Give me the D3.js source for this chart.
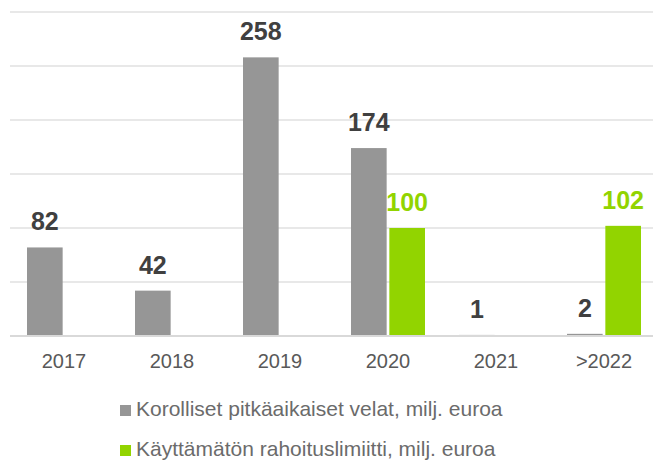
<!DOCTYPE html>
<html>
<head>
<meta charset="utf-8">
<script src="https://cdn.jsdelivr.net/npm/d3@7"></script>
<style>
  body { margin: 0; background: #fff; }
  svg { display: block; font-family: "Liberation Sans", Arial, sans-serif; }
</style>
</head>
<body>
<div id="viz"></div>
<script>
var categories = ['2017', '2018', '2019', '2020', '2021', '>2022'];
var velat = [82, 42, 258, 174, 1, 2];
var limiitti = [null, null, null, 100, null, 102];
var seriesNames = ['Korolliset pitkäaikaiset velat, milj. euroa',
                   'Käyttämätön rahoituslimiitti, milj. euroa'];
var seriesColors = ['#969696', '#92d400'];
var labelColors = ['#404040', '#92d400'];
var yTicks = [0, 50, 100, 150, 200, 250, 300];

var width = 653,
    height = 462,
    plotTop = 12,
    plotBottom = 336,
    plotLeft = 10;

var svg = d3.select('#viz').append('svg')
    .attr('width', width)
    .attr('height', height);

var xScale = d3.scaleBand()
    .domain(categories)
    .range([plotLeft, plotLeft + 108 * categories.length]);

var inner = d3.scaleBand()
    .domain([0, 1])
    .range([17, 91])
    .paddingInner(0.07);

var yScale = d3.scaleLinear()
    .domain([0, 300])
    .range([plotBottom, plotTop]);

// gridlines
svg.append('g')
    .selectAll('line')
    .data(yTicks.slice(1))
    .enter().append('line')
    .attr('x1', plotLeft)
    .attr('x2', width)
    .attr('y1', function(d){ return yScale(d); })
    .attr('y2', function(d){ return yScale(d); })
    .style('stroke', '#e0e0e0')
    .style('stroke-width', 1.5);

var series = [velat, limiitti];

series.forEach(function(values, s){
    var data = values.map(function(v, i){ return {cat: categories[i], v: v}; })
        .filter(function(d){ return d.v !== null; });

    var g = svg.append('g');
    g.selectAll('rect')
        .data(data)
        .enter().append('rect')
        .attr('x', function(d){ return xScale(d.cat) + inner(s); })
        .attr('width', inner.bandwidth())
        .attr('y', function(d){ return yScale(d.v); })
        .attr('height', function(d){ return plotBottom - yScale(d.v); })
        .style('fill', seriesColors[s]);

    g.selectAll('text')
        .data(data)
        .enter().append('text')
        .attr('x', function(d){ return xScale(d.cat) + inner(s) + inner.bandwidth() / 2; })
        .attr('y', function(d){ return yScale(d.v) - 17; })
        .attr('text-anchor', 'middle')
        .style('font-size', '25px')
        .style('font-weight', 'bold')
        .style('fill', labelColors[s])
        .text(function(d){ return d.v; });
});

// x axis
var xAxis = svg.append('g')
    .attr('transform', 'translate(0,' + plotBottom + ')')
    .call(d3.axisBottom(xScale).tickSize(0).tickPadding(18));
xAxis.select('.domain').remove();
xAxis.append('line')
    .attr('x1', plotLeft)
    .attr('x2', width)
    .style('stroke', '#d9d9d9')
    .style('stroke-width', 2);
xAxis.selectAll('text')
    .style('font-family', '"Liberation Sans", Arial, sans-serif')
    .style('font-size', '20px')
    .style('fill', '#595959');

// legend
var legend = svg.append('g')
    .selectAll('g')
    .data(seriesNames)
    .enter().append('g')
    .attr('transform', function(d, i){ return 'translate(120,' + (405 + i * 40) + ')'; });
legend.append('rect')
    .attr('width', 11)
    .attr('height', 11)
    .style('fill', function(d, i){ return seriesColors[i]; });
legend.append('text')
    .attr('x', 16)
    .attr('y', 11)
    .style('font-size', '21px')
    .style('fill', '#6b6b6b')
    .text(function(d){ return d; });
</script>
</body>
</html>
